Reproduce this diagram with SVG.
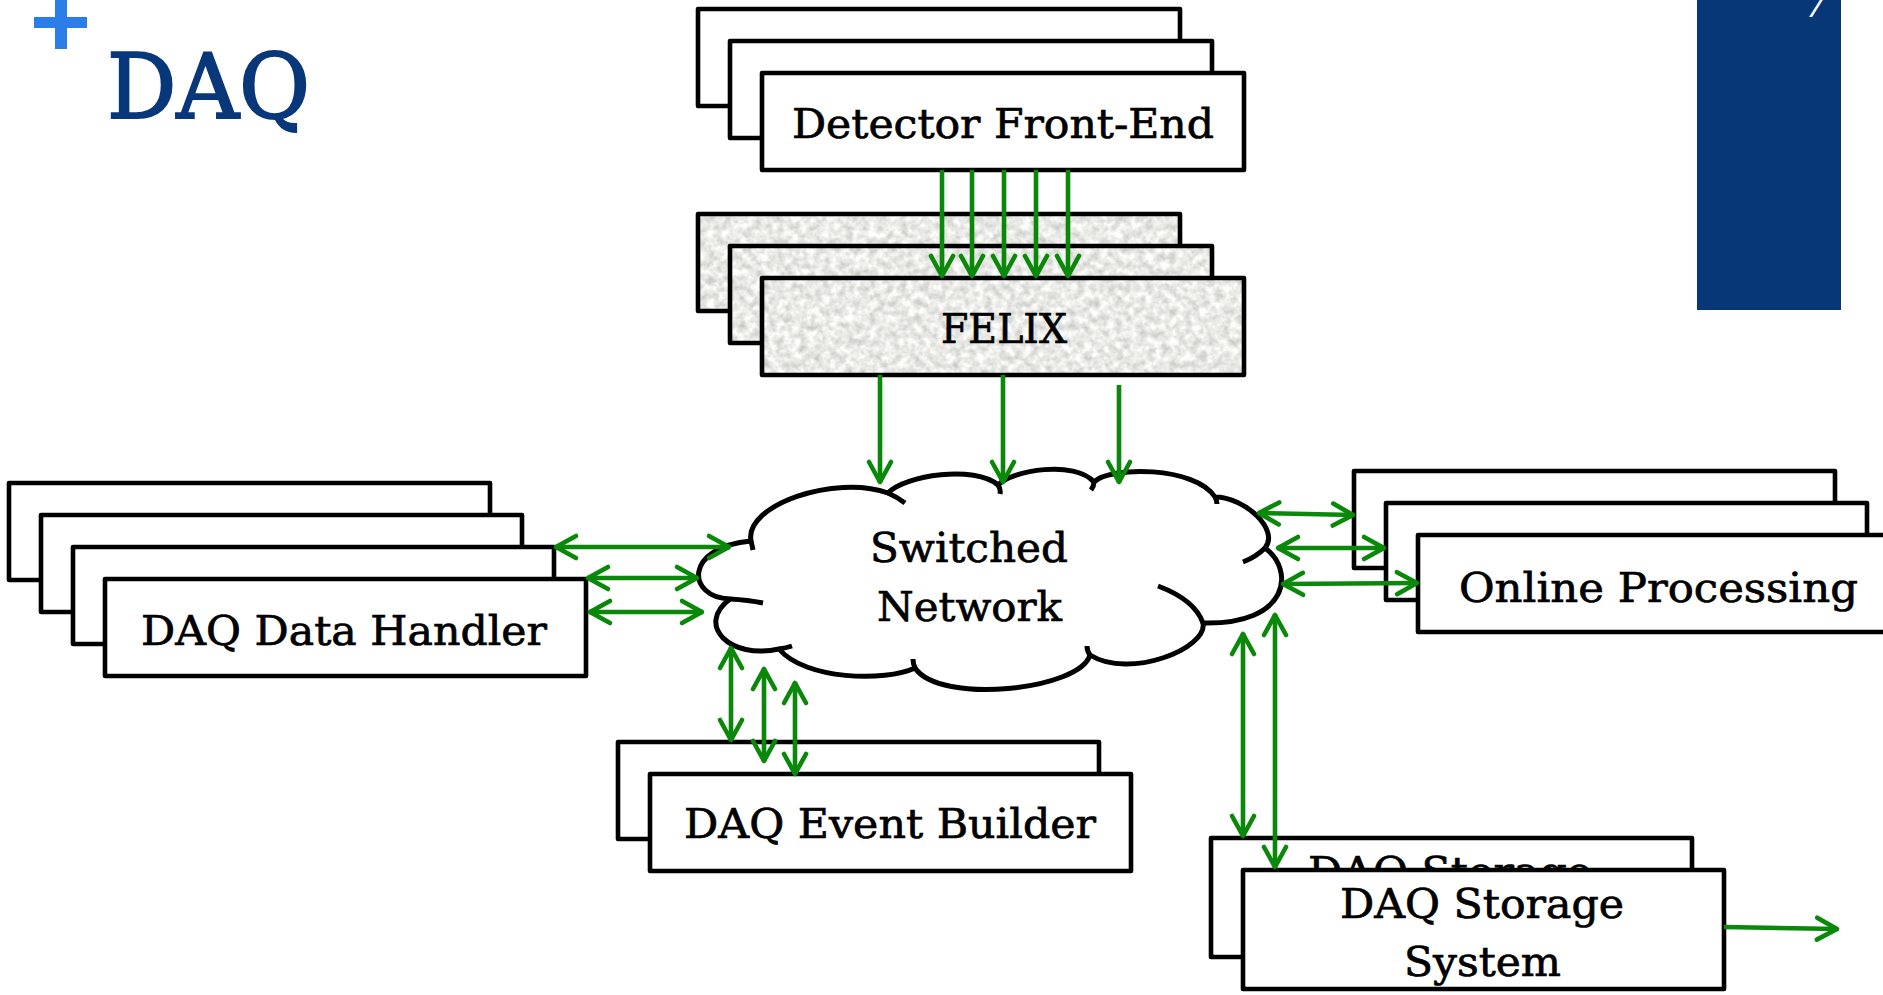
<svg xmlns="http://www.w3.org/2000/svg" width="1883" height="995" viewBox="0 0 1883 995">
<style>
.box{fill:#fff;stroke:#000;stroke-width:4.6;stroke-linejoin:round}
.felix-stroke{fill:none;stroke:#000;stroke-width:4.6;stroke-linejoin:round}
.lbl{font-family:"DejaVu Serif","Liberation Serif",serif;font-size:41px;fill:#000;stroke:#000;stroke-width:0.7}
.cloud{fill:#fff;stroke:#000;stroke-width:5;stroke-linejoin:round}
.cusp{fill:none;stroke:#000;stroke-width:5;stroke-linecap:butt}
.arr{fill:none;stroke:#0a880a;stroke-width:4.6;marker-end:url(#ah)}
.arr2{fill:none;stroke:#0a880a;stroke-width:4.6;marker-start:url(#ah);marker-end:url(#ah)}
</style>
<defs>
<marker id="ah" viewBox="-25 -15 30 30" markerUnits="userSpaceOnUse" markerWidth="30" markerHeight="30" refX="0" refY="0" orient="auto-start-reverse" overflow="visible">
<path d="M-21,-11 L-1,0 L-21,11" fill="none" stroke="#0a880a" stroke-width="4.6" stroke-linejoin="round" stroke-linecap="round"/>
</marker>
<filter id="grain" x="0" y="0" width="1" height="1" color-interpolation-filters="sRGB">
<feTurbulence type="fractalNoise" baseFrequency="0.13" numOctaves="3" seed="7"/>
<feColorMatrix type="matrix" values="0.35 0 0 0 0.74  0.35 0 0 0 0.74  0.35 0 0 0 0.73  0 0 0 0 1"/>
<feComposite in2="SourceGraphic" operator="in"/>
</filter>
</defs>
<rect width="1883" height="995" fill="#fff"/>

<g id="title">
<rect x="55" y="0" width="12" height="49" fill="#2b7de9"/>
<rect x="34" y="17" width="53" height="11" fill="#2b7de9"/>
<text x="107" y="118" font-family="DejaVu Serif, Liberation Serif, serif" font-size="89" fill="#08377a" stroke="#08377a" stroke-width="2" textLength="203" lengthAdjust="spacingAndGlyphs">DAQ</text>
</g>

<g id="page-bar">
<rect x="1697" y="0" width="144" height="310" fill="#083778"/>
<text x="1804" y="17" font-family="DejaVu Serif, Liberation Serif, serif" font-size="38" font-style="italic" fill="#fff">7</text>
</g>

<g id="detector-front-end">
<rect class="box" x="698" y="9" width="482" height="97"/>
<rect class="box" x="730" y="41" width="482" height="97"/>
<rect class="box" x="762" y="73" width="482" height="97"/>
<text class="lbl" x="792" y="138" textLength="422" lengthAdjust="spacingAndGlyphs">Detector Front-End</text>
</g>

<g id="felix">
<rect x="698" y="214" width="482" height="97" fill="#e8e8e6" filter="url(#grain)"/>
<rect class="felix-stroke" x="698" y="214" width="482" height="97"/>
<rect x="730" y="246" width="482" height="97" fill="#e8e8e6" filter="url(#grain)"/>
<rect class="felix-stroke" x="730" y="246" width="482" height="97"/>
<rect x="762" y="278" width="482" height="97" fill="#e8e8e6" filter="url(#grain)"/>
<rect class="felix-stroke" x="762" y="278" width="482" height="97"/>
<text class="lbl" x="941" y="343" textLength="126" lengthAdjust="spacingAndGlyphs">FELIX</text>
</g>

<g id="daq-data-handler">
<rect class="box" x="9" y="483" width="481" height="97"/>
<rect class="box" x="41" y="515" width="481" height="97"/>
<rect class="box" x="73" y="547" width="481" height="97"/>
<rect class="box" x="105" y="579" width="481" height="97"/>
<text class="lbl" x="141" y="645" textLength="406" lengthAdjust="spacingAndGlyphs">DAQ Data Handler</text>
</g>

<g id="switched-network">
<path class="cloud" d="M751,541 C744,505 835,474 888,493 C905,475 975,465 998,485 C1012,470 1075,460 1094,482 C1110,466 1195,466 1215,497 C1245,497 1280,530 1265,548 C1295,570 1290,625 1203,623 C1208,648 1130,680 1090,655 C1080,690 940,705 915,668 C885,682 805,680 779,649 C730,660 695,625 730,599 C686,597 684,547 751,541 Z"/>
<path class="cusp" d="M888,493 Q897,497 905,503 M998,485 Q1001,489 1000,494 M1094,482 Q1094,486 1091,490 M1215,497 Q1217,500 1217,504 M1265,548 Q1256,557 1243,562 M1158,586 Q1195,600 1203,623 M1090,655 Q1087,651 1087,646 M915,668 Q913,664 913,659 M779,649 Q786,648 792,646 M730,599 Q748,600 763,603 M751,541 Q752,545 753,550"/>
<text class="lbl" x="870" y="562" textLength="198" lengthAdjust="spacingAndGlyphs">Switched</text>
<text class="lbl" x="877" y="621" textLength="185" lengthAdjust="spacingAndGlyphs">Network</text>
</g>

<g id="online-processing">
<rect class="box" x="1354" y="471" width="481" height="97"/>
<rect class="box" x="1386" y="503" width="481" height="97"/>
<rect class="box" x="1418" y="535" width="481" height="97"/>
<text class="lbl" x="1459" y="602" textLength="399" lengthAdjust="spacingAndGlyphs">Online Processing</text>
</g>

<g id="daq-event-builder">
<rect class="box" x="618" y="742" width="481" height="97"/>
<rect class="box" x="650" y="774" width="481" height="97"/>
<text class="lbl" x="684" y="838" textLength="412" lengthAdjust="spacingAndGlyphs">DAQ Event Builder</text>
</g>

<g id="daq-storage-system">
<rect class="box" x="1211" y="838" width="481" height="119"/>
<text class="lbl" x="1308" y="886" textLength="284" lengthAdjust="spacingAndGlyphs">DAQ Storage</text>
<rect class="box" x="1243" y="870" width="481" height="119"/>
<text class="lbl" x="1340" y="918" textLength="284" lengthAdjust="spacingAndGlyphs">DAQ Storage</text>
<text class="lbl" x="1404" y="976" textLength="157" lengthAdjust="spacingAndGlyphs">System</text>
</g>

<g id="connectors">
<line class="arr" x1="942" y1="170" x2="942" y2="277"/>
<line class="arr" x1="972" y1="170" x2="972" y2="277"/>
<line class="arr" x1="1004" y1="170" x2="1004" y2="277"/>
<line class="arr" x1="1036" y1="170" x2="1036" y2="277"/>
<line class="arr" x1="1068" y1="170" x2="1068" y2="277"/>
<line class="arr" x1="880" y1="375" x2="880" y2="483"/>
<line class="arr" x1="1003" y1="375" x2="1003" y2="483"/>
<line class="arr" x1="1119" y1="385" x2="1119" y2="483"/>
<line class="arr2" x1="555" y1="547" x2="730" y2="547"/>
<line class="arr2" x1="587" y1="578" x2="698" y2="578"/>
<line class="arr2" x1="589" y1="612" x2="703" y2="612"/>
<line class="arr2" x1="731" y1="647" x2="731" y2="741"/>
<line class="arr2" x1="764" y1="668" x2="764" y2="762"/>
<line class="arr2" x1="795" y1="682" x2="795" y2="775"/>
<line class="arr2" x1="1258" y1="513" x2="1354" y2="515"/>
<line class="arr2" x1="1277" y1="548" x2="1385" y2="548"/>
<line class="arr2" x1="1282" y1="584" x2="1418" y2="583"/>
<line class="arr2" x1="1243" y1="633" x2="1243" y2="837"/>
<line class="arr2" x1="1275" y1="614" x2="1275" y2="868"/>
<line class="arr" x1="1724" y1="927" x2="1838" y2="929"/>
</g>
</svg>
